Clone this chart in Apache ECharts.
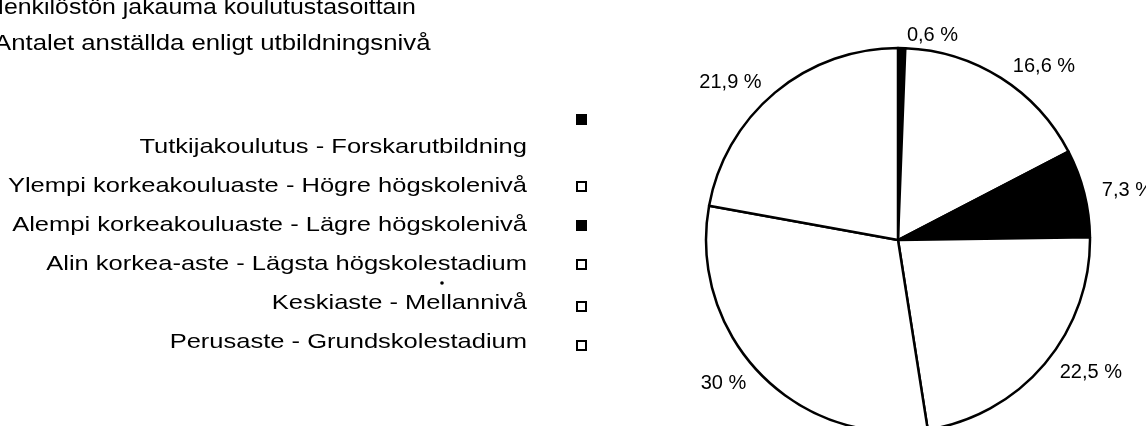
<!DOCTYPE html>
<html>
<head>
<meta charset="utf-8">
<script src="https://cdn.jsdelivr.net/npm/echarts@6/dist/echarts.min.js"></script>
<style>
  html, body { margin: 0; padding: 0; background: #fff; }
  #main { width: 1146px; height: 426px; }
</style>
</head>
<body>
<div id="main"></div>
<script>
// data
var categories = [
    'Tutkijakoulutus - Forskarutbildning',
    'Ylempi korkeakouluaste - Högre högskolenivå',
    'Alempi korkeakouluaste - Lägre högskolenivå',
    'Alin korkea-aste - Lägsta högskolestadium',
    'Keskiaste - Mellannivå',
    'Perusaste - Grundskolestadium'
];
var shares = [0.6, 16.6, 7.3, 22.5, 30, 21.9];
var fills = ['#000', '#fff', '#000', '#fff', '#fff', '#fff'];
var valueLabels = ['0,6 %', '16,6 %', '7,3 %', '22,5 %', '30 %', '21,9 %'];
var titleLines = ['Henkilöstön jakauma koulutustasoittain', 'Antalet anställda enligt utbildningsnivå'];

var font = 'Liberation Sans, Arial, sans-serif';

// the scanned legend / title text is wider than plain Arial, so stretch it a bit
var titleX = [-14, -6], titleStretch = [1.13, 1.17];
var legendRight = 527, legendTop = 147, legendPitch = 39, legendStretch = 1.215;
var markerX = 576, markerShift = [-28, 0, 0, 0, 3, 3];

var graphics = [];
titleLines.forEach(function (t, i) {
    graphics.push({
        type: 'text', x: titleX[i], y: 8 + i * 36, scaleX: titleStretch[i], silent: true,
        style: { text: t, font: '22px ' + font, fill: '#000', align: 'left', verticalAlign: 'middle' }
    });
});
categories.forEach(function (name, i) {
    var y = legendTop + i * legendPitch;
    graphics.push({
        type: 'text', x: legendRight, y: y, scaleX: legendStretch, silent: true,
        style: { text: name, font: '21px ' + font, fill: '#000', align: 'right', verticalAlign: 'middle' }
    });
    graphics.push({
        type: 'rect', silent: true,
        shape: { x: markerX + 1, y: y + markerShift[i] - 4, width: 9, height: 9 },
        style: { fill: fills[i], stroke: '#000', lineWidth: 2 }
    });
});
// stray speck in the scan
graphics.push({ type: 'circle', silent: true, shape: { cx: 442, cy: 283, r: 1.8 }, style: { fill: '#000' } });

var pieData = categories.map(function (name, i) {
    return {
        name: name, value: shares[i],
        itemStyle: { color: fills[i] },
        label: { formatter: valueLabels[i] }
    };
});

var myChart = echarts.init(document.getElementById('main'));
var option = {
    backgroundColor: '#fff',
    animation: false,
    graphic: graphics,
    series: [
        {
            type: 'pie',
            center: [898, 240],
            radius: 192,
            startAngle: 90,
            clockwise: true,
            silent: true,
            avoidLabelOverlap: false,
            label: {
                show: true, position: 'outside',
                fontFamily: font, fontSize: 20, color: '#000',
                distanceToLabelLine: 5
            },
            labelLine: { show: false, length: 13, length2: 0 },
            itemStyle: { borderColor: '#000', borderWidth: 2.5 },
            data: pieData
        }
    ]
};
myChart.setOption(option);
</script>
</body>
</html>
